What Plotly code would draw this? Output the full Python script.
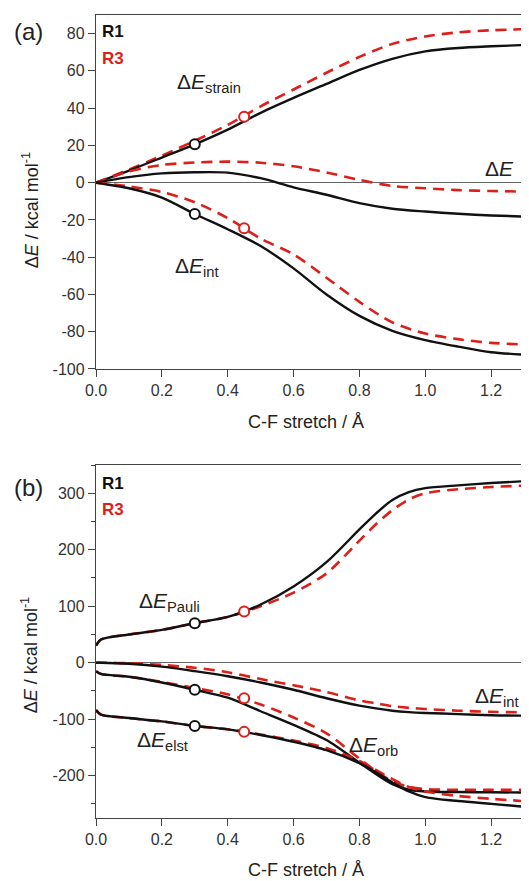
import plotly.graph_objects as go

# ---------------- data ----------------
# panel (a)
xa = [0, 0.1, 0.2, 0.3, 0.4, 0.5, 0.6, 0.7, 0.8, 0.9, 1.0, 1.1, 1.2, 1.32]
strain_R1 = [0, 6.5, 13.5, 20.6, 28.5, 37.5, 45.5, 53, 60.5, 66.5, 70.5, 72.3, 73.2, 74]
strain_R3 = [0, 7, 14.5, 22.5, 31, 41, 50, 59, 67.5, 74.5, 78.5, 80.7, 81.8, 82.5]
dE_R1 = [0, 3, 5, 5.6, 5.4, 2.4, -2.5, -6.5, -11, -14, -15.5, -16.7, -17.6, -18.3]
dE_R3 = [0, 6, 9.5, 10.8, 11.3, 10.7, 8.8, 5.5, 1.5, -1.8, -3, -4, -4.5, -4.8]
int_R1 = [0, -3, -8, -16.8, -25, -34, -46, -60, -71.5, -79.5, -84.5, -88, -91, -92.5]
int_R3 = [0, -2, -5, -10.5, -19, -30, -38.5, -51, -64, -75, -81, -84, -86, -87]

# panel (b)
xb = [0, 0.015, 0.1, 0.2, 0.3, 0.4, 0.5, 0.6, 0.7, 0.8, 0.85, 0.9, 0.95, 1.0, 1.1, 1.2, 1.32]
pauli_R1 = [30, 41, 50, 58, 70, 81, 103, 135, 178, 236, 264, 288, 302, 309, 314, 318, 322]
pauli_R3 = [30, 41, 50, 58, 70, 81, 100, 124, 158, 216, 245, 270, 289, 300, 307, 311, 314]
intb_R1 = [0, 0, -2, -7, -15, -24, -35, -48, -63, -76, -81, -85, -87.5, -89, -91, -93, -94]
intb_R3 = [0, 0, -1, -4, -9, -17, -29, -40, -52, -67, -72, -77, -80, -82, -85, -87, -88]
orb_R1 = [-15, -20, -25, -35, -48, -62, -86, -110, -137, -177, -197, -215, -225, -228, -229, -229.5, -230]
orb_R3 = [-15, -20, -25, -34, -45, -56, -74, -97, -125, -170, -192, -210, -220, -224, -225, -225, -225]
elst_R1 = [-84, -92, -98, -104, -112, -118, -128, -140, -155, -178, -194, -212, -228, -238, -245, -250, -256]
elst_R3 = [-84, -92, -98, -104, -112, -118, -127, -138, -151, -174, -190, -206, -220, -228, -236, -241, -246]

# circle markers (R1 at 0.3, R3 at 0.45)
mk_x_R1 = 0.3
mk_x_R3 = 0.45
mk_a_R1 = [20.6, -16.8]
mk_a_R3 = [35.4, -24.5]
mk_b_R1 = [70, -48, -112]
mk_b_R3 = [90.5, -63, -122.5]

# tick labels
xticks = [0, 0.2, 0.4, 0.6, 0.8, 1.0, 1.2]
xticklabels = ["0.0", "0.2", "0.4", "0.6", "0.8", "1.0", "1.2"]
ya_ticks = [-100, -80, -60, -40, -20, 0, 20, 40, 60, 80]
ya_labels = ["-100", "-80", "-60", "-40", "-20", "0", "20", "40", "60", "80"]
yb_ticks = [-200, -100, 0, 100, 200, 300]
yb_labels = ["-200", "-100", "0", "100", "200", "300"]

BLACK = "#111111"
RED = "#DD1F1A"
FONT = "Liberation Sans, Arial, sans-serif"

fig = go.Figure()


def solid(x, y, xa_, ya_):
    fig.add_trace(go.Scatter(x=x, y=y, mode="lines", xaxis=xa_, yaxis=ya_,
                             line=dict(color=BLACK, width=2.4, shape="spline", smoothing=0.8),
                             showlegend=False, hoverinfo="skip"))


def dashed(x, y, xa_, ya_):
    fig.add_trace(go.Scatter(x=x, y=y, mode="lines", xaxis=xa_, yaxis=ya_,
                             line=dict(color=RED, width=2.6, dash="11px,7px", shape="spline", smoothing=0.8),
                             showlegend=False, hoverinfo="skip"))


def marks(xv, ys, color, xa_, ya_):
    fig.add_trace(go.Scatter(x=[xv] * len(ys), y=ys, mode="markers", xaxis=xa_, yaxis=ya_,
                             marker=dict(symbol="circle", size=10, color="white",
                                         line=dict(color=color, width=2)),
                             showlegend=False, hoverinfo="skip"))


for y1, y3 in [(strain_R1, strain_R3), (dE_R1, dE_R3), (int_R1, int_R3)]:
    dashed(xa, y3, "x", "y")
    solid(xa, y1, "x", "y")
for y1, y3 in [(pauli_R1, pauli_R3), (intb_R1, intb_R3), (orb_R1, orb_R3), (elst_R1, elst_R3)]:
    dashed(xb, y3, "x2", "y2")
    solid(xb, y1, "x2", "y2")

marks(mk_x_R1, mk_a_R1, BLACK, "x", "y")
marks(mk_x_R3, mk_a_R3, RED, "x", "y")
marks(mk_x_R1, mk_b_R1, BLACK, "x2", "y2")
marks(mk_x_R3, mk_b_R3, RED, "x2", "y2")

axis_common = dict(showline=True, linecolor="#444", linewidth=1.3, ticks="outside",
                   ticklen=7, tickwidth=1.3, tickcolor="#444", showgrid=False,
                   tickfont=dict(family=FONT, size=16, color="#333"))

xcommon = dict(axis_common, range=[0, 1.315], tickmode="array", tickvals=xticks,
               ticktext=xticklabels, mirror=True, zeroline=False)
ycommon = dict(axis_common, mirror=False, zeroline=True, zerolinecolor="#666",
               zerolinewidth=1.2, tickmode="array")

# page body has an 8px default margin: the figure is sized/offset to compensate
fig.update_layout(
    width=521, height=873,
    margin=dict(l=88, r=0, t=7, b=63),
    paper_bgcolor="white", plot_bgcolor="white",
    xaxis=dict(xcommon, anchor="y", domain=[0, 1]),
    yaxis=dict(ycommon, anchor="x", domain=[0.5592, 1], range=[-100, 90],
               tickvals=ya_ticks, ticktext=ya_labels),
    xaxis2=dict(xcommon, anchor="y2", domain=[0, 1]),
    yaxis2=dict(ycommon, anchor="x2", domain=[0, 0.4396], range=[-275, 350],
                tickvals=yb_ticks, ticktext=yb_labels,
                minor=dict(tickmode="linear", tick0=0, dtick=50, ticks="outside",
                           ticklen=4, tickwidth=1.2, tickcolor="#444")),
)

ann = []
lab = dict(family=FONT, size=21, color="#222")
# in-plot labels
ann.append(dict(x=0.24, y=53.5, xref="x", yref="y", text="Δ<i>E</i><sub>strain</sub>",
                xanchor="left", yanchor="middle", showarrow=False, font=lab))
ann.append(dict(x=1.175, y=7.5, xref="x", yref="y", text="Δ<i>E</i>",
                xanchor="left", yanchor="middle", showarrow=False, font=lab))
ann.append(dict(x=0.234, y=-45, xref="x", yref="y", text="Δ<i>E</i><sub>int</sub>",
                xanchor="left", yanchor="middle", showarrow=False, font=lab))
ann.append(dict(x=0.124, y=108, xref="x2", yref="y2", text="Δ<i>E</i><sub>Pauli</sub>",
                xanchor="left", yanchor="middle", showarrow=False, font=lab))
ann.append(dict(x=0.118, y=-138, xref="x2", yref="y2", text="Δ<i>E</i><sub>elst</sub>",
                xanchor="left", yanchor="middle", showarrow=False, font=lab))
ann.append(dict(x=0.761, y=-148, xref="x2", yref="y2", text="Δ<i>E</i><sub>orb</sub>",
                xanchor="left", yanchor="middle", showarrow=False, font=lab))
ann.append(dict(x=1.145, y=-60, xref="x2", yref="y2", text="Δ<i>E</i><sub>int</sub>",
                xanchor="left", yanchor="middle", showarrow=False, font=lab))

# legends
for yv, txt, col in [(0.9795, "R1", BLACK), (0.946, "R3", RED),
                     (0.4168, "R1", BLACK), (0.3836, "R3", RED)]:
    ann.append(dict(x=0.01, y=yv, xref="paper", yref="paper", text="<b>" + txt + "</b>",
                    xanchor="left", yanchor="middle", showarrow=False,
                    font=dict(family=FONT, size=17, color=col)))

# panel labels
for yv, txt in [(0.9795, "(a)"), (0.411, "(b)")]:
    ann.append(dict(x=-0.157, y=yv, xref="paper", yref="paper", text=txt,
                    xanchor="center", yanchor="middle", showarrow=False,
                    font=dict(family=FONT, size=24, color="#222")))

# axis titles
ytitle = "Δ<i>E</i> / kcal mol<sup>-1</sup>"
for yv in [0.757, 0.203]:
    ann.append(dict(x=-0.152, y=yv, xref="paper", yref="paper", text=ytitle, textangle=-90,
                    xanchor="center", yanchor="middle", showarrow=False,
                    font=dict(family=FONT, size=18, color="#222")))
for yv in [(818 - 421.7) / 803, (818 - 870) / 803]:
    ann.append(dict(x=0.485, y=yv, xref="paper", yref="paper", text="C-F stretch / Å",
                    xanchor="center", yanchor="middle", showarrow=False,
                    font=dict(family=FONT, size=18, color="#222")))

fig.update_layout(annotations=ann)
fig.write_html("out.html")
